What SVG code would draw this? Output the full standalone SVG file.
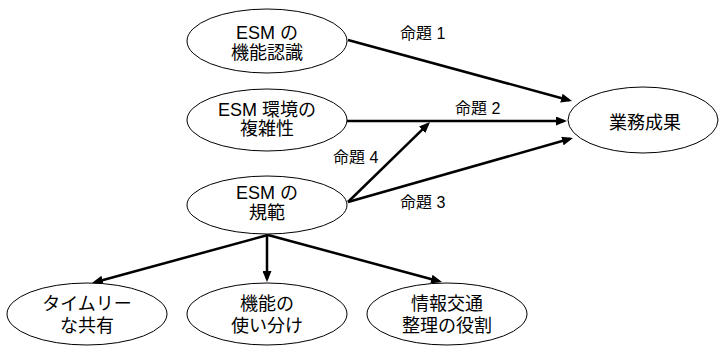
<svg xmlns="http://www.w3.org/2000/svg" width="720" height="347" viewBox="0 0 720 347">
<style>
.n{fill:#fff;stroke:#000;stroke-width:1}
.t{font-family:"Liberation Sans","Noto Sans CJK JP",sans-serif;font-size:18px;fill:#000;text-anchor:middle}
.l{font-family:"Liberation Sans","Noto Sans CJK JP",sans-serif;font-size:16px;fill:#000}
.c{stroke:#000;stroke-width:2.5;fill:none;marker-end:url(#ah)}
</style>
<defs>
<marker id="ah" markerUnits="userSpaceOnUse" markerWidth="11" markerHeight="9" refX="8" refY="4.5" orient="auto">
<path d="M0,0 L11,4.5 L0,9 z" fill="#000"/>
</marker>
</defs>
<rect width="720" height="347" fill="#fff"/>
<g id="connectors">
<line class="c" x1="348" y1="40" x2="569.1" y2="100.2"/>
<line class="c" x1="347" y1="121" x2="564" y2="121"/>
<line class="c" x1="348" y1="202" x2="570.1" y2="138.8"/>
<line class="c" x1="348" y1="202" x2="427.9" y2="124.1"/>
<line class="c" x1="268" y1="235" x2="94.9" y2="282.2"/>
<line class="c" x1="267" y1="235" x2="267" y2="279"/>
<line class="c" x1="268" y1="235" x2="439.1" y2="281.2"/>
<text class="l" x="400" y="39">命題 1</text>
<text class="l" x="455" y="114">命題 2</text>
<text class="l" x="333" y="163">命題 4</text>
<text class="l" x="400" y="208">命題 3</text>
</g>
<g id="n1">
<ellipse class="n" cx="267" cy="41" rx="80" ry="32"/>
<text class="t" x="267" y="38.5">ESM の</text>
<text class="t" x="267" y="58.5">機能認識</text>
</g>
<g id="n2">
<ellipse class="n" cx="267" cy="120" rx="80" ry="31"/>
<text class="t" x="267" y="116">ESM 環境の</text>
<text class="t" x="267" y="135">複雑性</text>
</g>
<g id="n3">
<ellipse class="n" cx="267" cy="205" rx="80" ry="29"/>
<text class="t" x="267" y="199">ESM の</text>
<text class="t" x="267" y="219">規範</text>
</g>
<g id="n4">
<ellipse class="n" cx="643" cy="120" rx="75" ry="33"/>
<text class="t" x="645" y="128.5">業務成果</text>
</g>
<g id="n5">
<ellipse class="n" cx="87" cy="314" rx="80" ry="31"/>
<text class="t" x="87" y="309.5">タイムリー</text>
<text class="t" x="87" y="331.5">な共有</text>
</g>
<g id="n6">
<ellipse class="n" cx="267" cy="314" rx="80" ry="31"/>
<text class="t" x="267" y="309.5">機能の</text>
<text class="t" x="267" y="331.5">使い分け</text>
</g>
<g id="n7">
<ellipse class="n" cx="447" cy="314" rx="80" ry="31"/>
<text class="t" x="447" y="309.5">情報交通</text>
<text class="t" x="447" y="331.5">整理の役割</text>
</g>
</svg>
